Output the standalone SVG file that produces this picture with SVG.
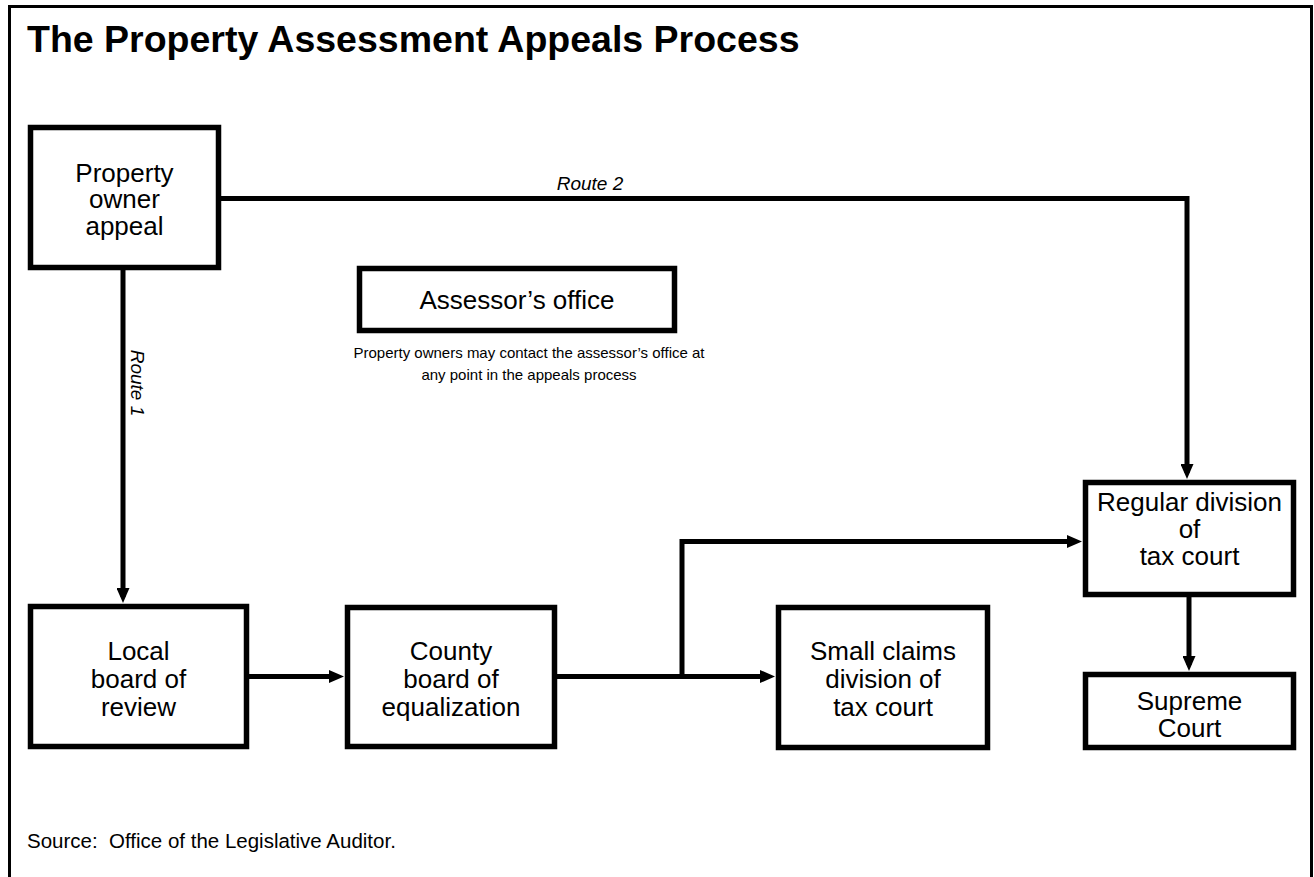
<svg xmlns="http://www.w3.org/2000/svg" width="1314" height="877" viewBox="0 0 1314 877">
  <style>
    .frame { fill: none; stroke: #000; stroke-width: 3; }
    .box { fill: #fff; stroke: #000; stroke-width: 5.5; }
    .wire { fill: none; stroke: #000; stroke-width: 5; stroke-linejoin: miter; stroke-linecap: butt; }
    text { font-family: "Liberation Sans", Arial, sans-serif; fill: #000; }
    .title { font-size: 37.5px; font-weight: bold; }
    .label { font-size: 26px; text-anchor: middle; }
    .note { font-size: 15px; text-anchor: middle; }
    .route { font-size: 19px; font-style: italic; text-anchor: middle; }
    .source { font-size: 20.5px; }
  </style>
  <defs>
    <marker id="arrow" markerUnits="userSpaceOnUse" markerWidth="15" markerHeight="13" refX="9" refY="6.5" orient="auto">
      <path d="M0,0 L15,6.5 L0,13 Z" fill="#000"/>
    </marker>
  </defs>

  <rect width="1314" height="877" fill="#fff"/>
  <!-- open-bottom page frame -->
  <path class="frame" d="M9.5,880 V6.5 H1311.5 V880"/>

  <text class="title" x="27" y="52">The Property Assessment Appeals Process</text>

  <!-- connectors -->
  <g id="connectors">
    <path class="wire" d="M221,198.5 H1187 V473" marker-end="url(#arrow)"/>
    <path class="wire" d="M123,270 V597" marker-end="url(#arrow)"/>
    <path class="wire" d="M249,676.5 H338" marker-end="url(#arrow)"/>
    <path class="wire" d="M557,676.5 H769" marker-end="url(#arrow)"/>
    <path class="wire" d="M682,679 V541.5 H1076" marker-end="url(#arrow)"/>
    <path class="wire" d="M1189,597 V665" marker-end="url(#arrow)"/>
    <text class="route" x="590" y="190">Route 2</text>
    <text class="route" x="131" y="383" transform="rotate(90 131 383)">Route 1</text>
  </g>

  <g id="property-owner-appeal">
    <rect class="box" x="30.5" y="127.5" width="188" height="140"/>
    <text class="label" x="124.5" y="182">Property</text>
    <text class="label" x="124.5" y="208">owner</text>
    <text class="label" x="124.5" y="235">appeal</text>
  </g>

  <g id="assessors-office">
    <rect class="box" x="359.5" y="268.5" width="315" height="62"/>
    <text class="label" x="517" y="309">Assessor’s office</text>
    <text class="note" x="529" y="358">Property owners may contact the assessor’s office at</text>
    <text class="note" x="529" y="380">any point in the appeals process</text>
  </g>

  <g id="local-board">
    <rect class="box" x="30.5" y="606.5" width="216" height="140"/>
    <text class="label" x="138.5" y="660">Local</text>
    <text class="label" x="138.5" y="688">board of</text>
    <text class="label" x="138.5" y="716">review</text>
  </g>

  <g id="county-board">
    <rect class="box" x="347.5" y="607.5" width="207" height="139"/>
    <text class="label" x="451" y="660">County</text>
    <text class="label" x="451" y="688">board of</text>
    <text class="label" x="451" y="716">equalization</text>
  </g>

  <g id="small-claims">
    <rect class="box" x="778.5" y="607.5" width="209" height="140"/>
    <text class="label" x="883" y="660">Small claims</text>
    <text class="label" x="883" y="688">division of</text>
    <text class="label" x="883" y="716">tax court</text>
  </g>

  <g id="regular-division">
    <rect class="box" x="1085.5" y="482.5" width="208" height="112"/>
    <text class="label" x="1189.5" y="511">Regular division</text>
    <text class="label" x="1189.5" y="538">of</text>
    <text class="label" x="1189.5" y="565">tax court</text>
  </g>

  <g id="supreme-court">
    <rect class="box" x="1085.5" y="674.5" width="208" height="73"/>
    <text class="label" x="1189.5" y="710">Supreme</text>
    <text class="label" x="1189.5" y="737">Court</text>
  </g>

  <text class="source" x="27" y="848" xml:space="preserve">Source:  Office of the Legislative Auditor.</text>
</svg>
